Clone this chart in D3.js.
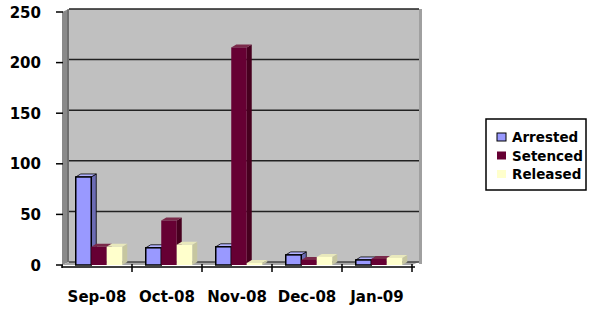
<!DOCTYPE html>
<html>
<head>
<meta charset="utf-8">
<script src="https://cdn.jsdelivr.net/npm/d3@7"></script>
<style>
  body { margin: 0; background: #fff; }
  text { font-family: "DejaVu Sans", Verdana, sans-serif; font-weight: bold; fill: #000; }
</style>
</head>
<body>
<script>
// data
const months = ["Sep-08", "Oct-08", "Nov-08", "Dec-08", "Jan-09"];
const seriesNames = ["Arrested", "Setenced", "Released"];
const arrested = [87, 17, 18, 10, 5];
const setenced = [18, 44, 215, 5, 6];
const released = [18, 20, 2, 8, 7];
const yTicks = [0, 50, 100, 150, 200, 250];

const width = 589, height = 309;
const svg = d3.select("body").append("svg")
  .attr("width", width)
  .attr("height", height);

// front plane of the 3d box
const x0 = d3.scaleBand().domain(months).range([62, 412]);
const y = d3.scaleLinear().domain([0, 250]).range([265, 12]);
const wdx = 7, wdy = -3;   // depth of walls
const bdx = 5, bdy = -3;   // depth of bars

const colors = {
  Arrested: { front: "#9999ff", side: "#6b6bb3", top: "#b3b3ff", stroke: "#000" },
  Setenced: { front: "#660033", side: "#47001f", top: "#7a2a4a", stroke: null },
  Released: { front: "#ffffcc", side: "#c6c6a0", top: "#e8e8bc", stroke: null }
};

const values = { Arrested: arrested, Setenced: setenced, Released: released };

// walls
const xl = x0.range()[0], xr = x0.range()[1];
const walls = svg.append("g");
// back wall
walls.append("rect")
  .attr("x", xl + wdx).attr("y", y(250) + wdy)
  .attr("width", xr - xl).attr("height", y(0) - y(250))
  .attr("fill", "#c0c0c0");
// right edge strip
walls.append("rect")
  .attr("x", xr + wdx).attr("y", y(250) + wdy)
  .attr("width", 3).attr("height", y(0) - y(250) + 2)
  .attr("fill", "#a0a0a0");
// left wall
walls.append("path")
  .attr("d", `M${xl},${y(250)} L${xl + wdx},${y(250) + wdy} L${xl + wdx},${y(0) + wdy} L${xl},${y(0)} Z`)
  .attr("fill", "#8a8a8a");
walls.append("line")
  .attr("x1", xl + wdx - 1).attr("x2", xl + wdx - 1)
  .attr("y1", y(250) + wdy).attr("y2", y(0) + wdy)
  .attr("stroke", "#555").attr("stroke-width", 1);
// floor
walls.append("path")
  .attr("d", `M${xl},${y(0)} L${xl + wdx},${y(0) + wdy} L${xr + wdx},${y(0) + wdy} L${xr},${y(0)} Z`)
  .attr("fill", "#a8a8a8");

// gridlines on back wall
walls.selectAll("line.grid")
  .data(yTicks)
  .enter().append("line")
    .attr("class", "grid")
    .attr("x1", xl + wdx).attr("x2", xr + wdx)
    .attr("y1", d => y(d) + wdy).attr("y2", d => y(d) + wdy)
    .attr("stroke", d => d == 0 ? "#444" : "#222")
    .attr("stroke-width", 1.5);

// bars
const groupW = 46.5;
const x1 = d3.scaleBand().domain(seriesNames).range([0, groupW]);
const shift = (x0.bandwidth() - groupW) / 2 + 2;

const barData = [];
months.forEach((m, i) => {
  seriesNames.forEach(s => {
    barData.push({ month: m, series: s, value: values[s][i] });
  });
});

const bars = svg.append("g").selectAll("g")
  .data(barData)
  .enter().append("g");

bars.each(function(d) {
  const g = d3.select(this);
  const c = colors[d.series];
  const bx = x0(d.month) + shift + x1(d.series);
  const bw = x1.bandwidth();
  const top = y(d.value), bot = y(0);
  // side
  g.append("path")
    .attr("d", `M${bx + bw},${top} L${bx + bw + bdx},${top + bdy} L${bx + bw + bdx},${bot + bdy} L${bx + bw},${bot} Z`)
    .attr("fill", c.side)
    .attr("stroke", c.stroke ? c.stroke : "none").attr("stroke-width", 0.8);
  // top
  g.append("path")
    .attr("d", `M${bx},${top} L${bx + bdx},${top + bdy} L${bx + bw + bdx},${top + bdy} L${bx + bw},${top} Z`)
    .attr("fill", c.top)
    .attr("stroke", c.stroke ? c.stroke : "none").attr("stroke-width", 0.8);
  // front
  g.append("rect")
    .attr("x", bx).attr("y", top)
    .attr("width", bw).attr("height", bot - top)
    .attr("fill", c.front)
    .attr("stroke", c.stroke ? c.stroke : "none").attr("stroke-width", 1.5);
});

// y axis ticks and labels
const yAxis = svg.append("g");
yAxis.selectAll("line")
  .data(yTicks)
  .enter().append("line")
    .attr("x1", 56).attr("x2", 63)
    .attr("y1", d => y(d)).attr("y2", d => y(d))
    .attr("stroke", "#000").attr("stroke-width", 1.5);
yAxis.selectAll("text")
  .data(yTicks)
  .enter().append("text")
    .attr("x", 41).attr("y", d => y(d) + 5.5)
    .attr("text-anchor", "end")
    .style("font-size", "15px")
    .text(d => d);
yAxis.append("line")
  .attr("x1", 62).attr("x2", 62).attr("y1", y(0)).attr("y2", y(0) + 3)
  .attr("stroke", "#000").attr("stroke-width", 1.5);

// x axis
const xAxis = svg.append("g");
xAxis.append("line")
  .attr("x1", xl).attr("x2", xr + 3)
  .attr("y1", y(0) + 2).attr("y2", y(0) + 2)
  .attr("stroke", "#000").attr("stroke-width", 1.5);
xAxis.selectAll("line.tick")
  .data(months.slice(1).concat(["end"]))
  .enter().append("line")
    .attr("class", "tick")
    .attr("x1", (d, i) => xl + (i + 1) * x0.bandwidth())
    .attr("x2", (d, i) => xl + (i + 1) * x0.bandwidth())
    .attr("y1", y(0) - 1).attr("y2", y(0) + 7)
    .attr("stroke", "#000").attr("stroke-width", 1.5);
xAxis.selectAll("text")
  .data(months)
  .enter().append("text")
    .attr("x", d => x0(d) + x0.bandwidth() / 2)
    .attr("y", 302)
    .attr("text-anchor", "middle")
    .style("font-size", "15px")
    .text(d => d);

// legend
const legend = svg.append("g");
legend.append("rect")
  .attr("x", 486).attr("y", 119)
  .attr("width", 100).attr("height", 71)
  .attr("fill", "#fff")
  .attr("stroke", "#000").attr("stroke-width", 1.5);
const items = legend.selectAll("g.item")
  .data(seriesNames)
  .enter().append("g")
    .attr("class", "item")
    .attr("transform", (d, i) => `translate(497,${137 + i * 18.5})`);
items.append("rect")
  .attr("x", 0).attr("y", -4).attr("width", 9).attr("height", 8)
  .attr("fill", d => colors[d].front)
  .attr("stroke", d => colors[d].stroke ? "#000" : "none")
  .attr("stroke-width", 1);
items.append("text")
  .attr("x", 15).attr("y", 5)
  .style("font-size", "13.5px")
  .text(d => d);
</script>
</body>
</html>
